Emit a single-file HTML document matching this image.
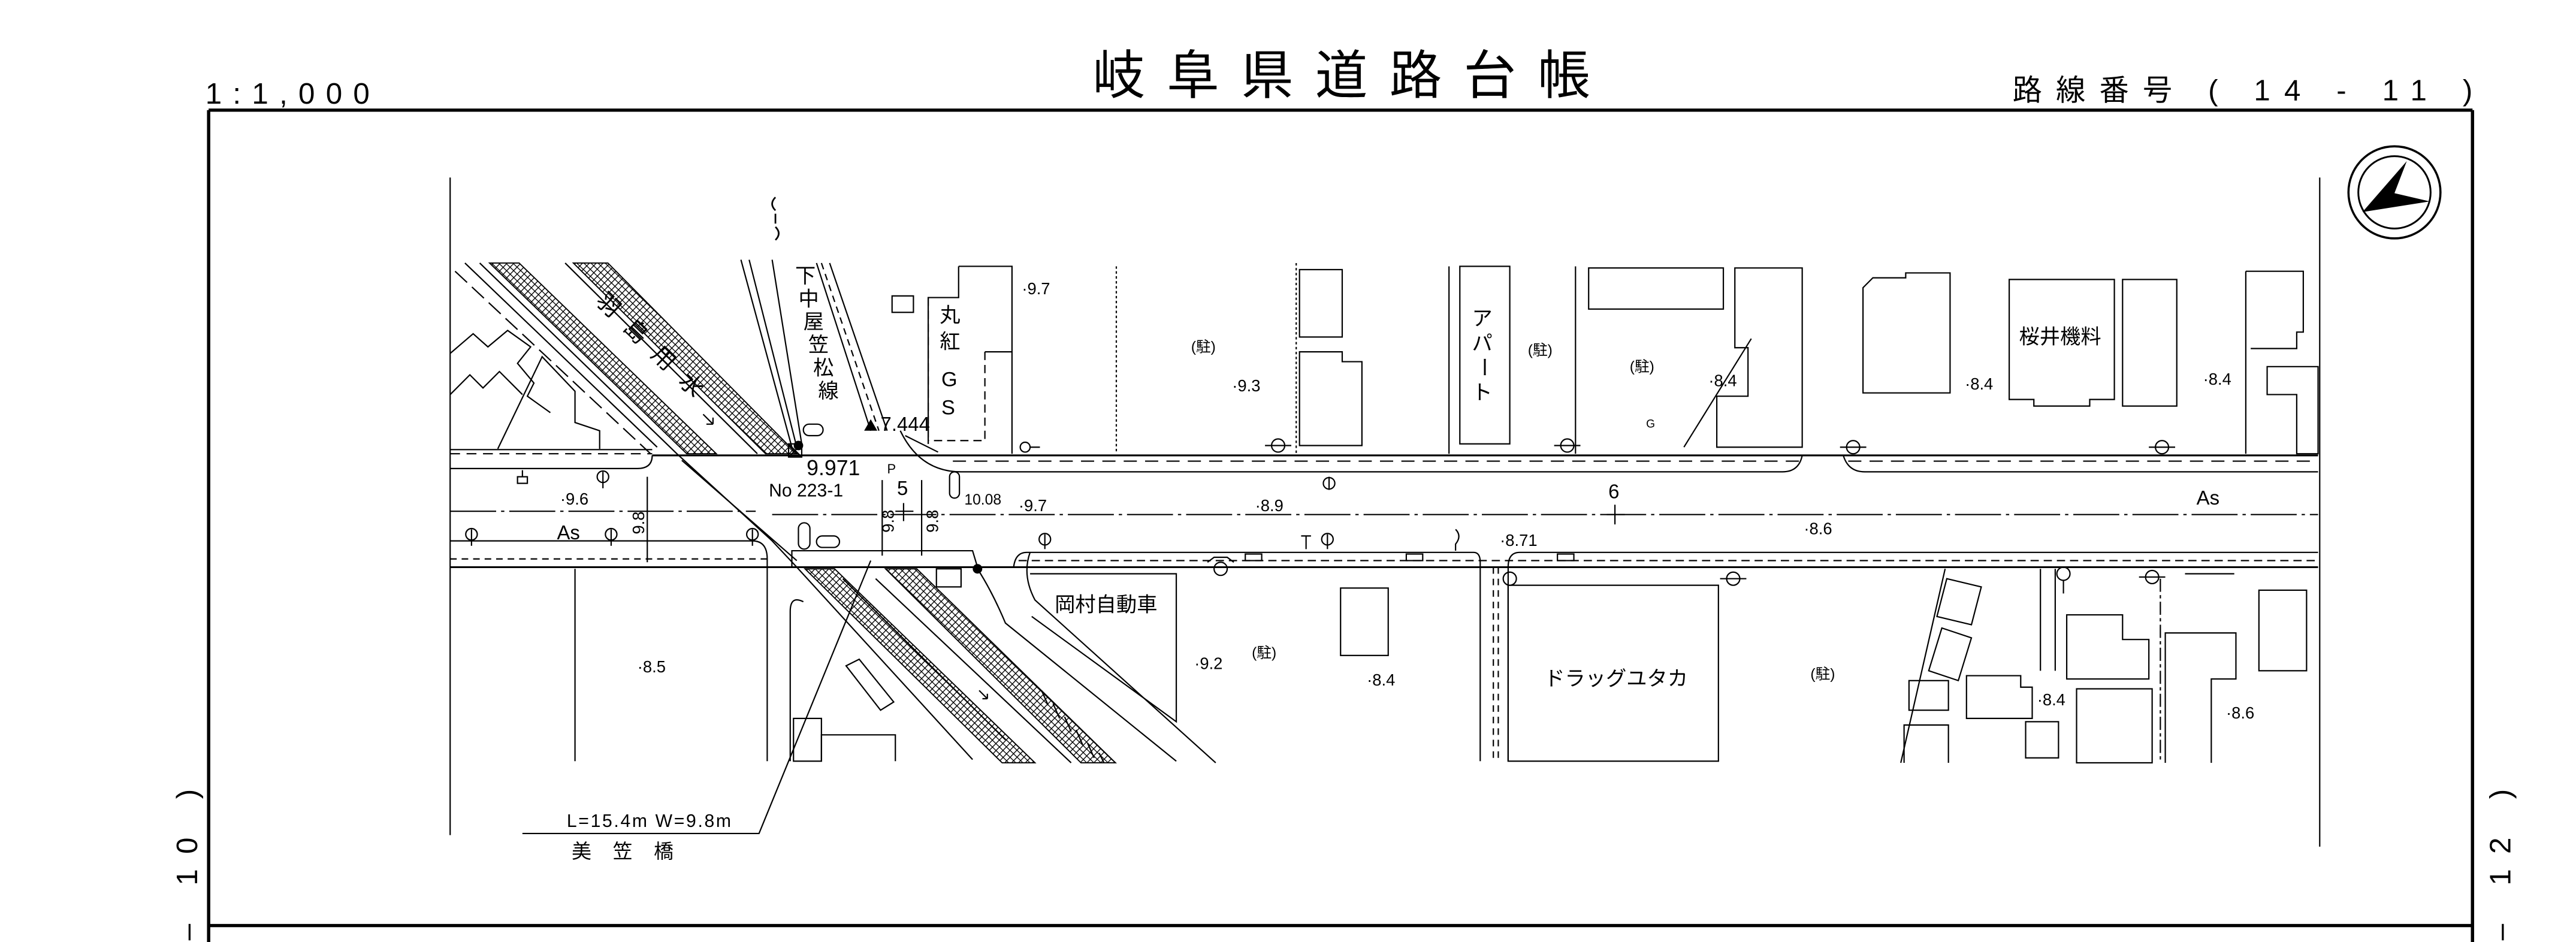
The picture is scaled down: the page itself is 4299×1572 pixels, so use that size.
<!DOCTYPE html>
<html><head><meta charset="utf-8"><style>
html,body{margin:0;padding:0;background:#fff}
svg{display:block}
text{font-family:"Liberation Sans","Noto Sans CJK JP",sans-serif;fill:#000}
</style></head><body>
<svg xmlns="http://www.w3.org/2000/svg" width="4299" height="1572" viewBox="0 0 1568 573" preserveAspectRatio="none">
<defs>
<pattern id="h" patternUnits="userSpaceOnUse" width="3" height="3" patternTransform="rotate(44)">
<rect width="3" height="3" fill="#fff"/>
<path d="M0 0H3M0 0V3" stroke="#000" stroke-width="1"/>
</pattern>
</defs>
<g fill="none" stroke="#000" stroke-width="0.8">
<path d="M127 67H1505M127 67V573M1505 67V573M127 563H1505" stroke-width="2"/>
<path d="M274 108V508M1412 108V515"/>

<circle cx="1457.5" cy="117" r="28" stroke-width="1.3"/>
<circle cx="1457.5" cy="117" r="22" stroke-width="1.1"/>
<polygon points="1465,98 1457.5,117.5 1479,122.5 1438,129" fill="#000" stroke="none"/>

<path d="M274 273.5H397"/>
<path d="M274 276H397" stroke-dasharray="6 4"/>
<path d="M397 277H1411" stroke-width="1.1"/>
<path d="M580 280.5H1095M1125 280.5H1411" stroke-dasharray="8 5"/>
<path d="M274 285H388Q397 285 397 277"/>
<path d="M548 262Q560 287 585 287H1085Q1095 287 1097 277"/>
<path d="M1122 277Q1125 287 1135 287H1411"/>
<path d="M274 311H460M470 313H1411" stroke-dasharray="28 3 2 3"/>
<path d="M274 329H458Q467 329 467 340V463"/>
<path d="M274 340H467" stroke-dasharray="4 3"/>
<path d="M274 345H1411" stroke-width="1.1"/>
<path d="M482 345V335H592L595 345"/>
<rect x="570" y="346" width="15" height="11"/>
<circle cx="595" cy="346" r="2.5" fill="#000"/>
<path d="M617 345Q618 336 625 336H897Q901 336 901 342V463"/>
<path d="M909 345V463M912 345V463" stroke-dasharray="4 3"/>
<path d="M918 463V345Q918 336 925 336H1411"/>
<path d="M620 341H1411" stroke-dasharray="5 3"/>

<polygon points="298,160 316,160 436,276 418,276" fill="url(#h)" stroke-width="0.7"/>
<polygon points="349,160 370,160 485,276 466,276" fill="url(#h)" stroke-width="0.7"/>
<path d="M292 160L412 276M344 160L461 276"/>
<path d="M277 165L396 276" stroke-dasharray="10 4"/>
<path d="M283 160L400 272"/>
<path d="M428 252l6 6m0 0v-4m0 4h-4"/>
<polygon points="490,346 508,346 630,464 610,464" fill="url(#h)" stroke-width="0.7"/>
<polygon points="539,346 558,346 679,464 658,464" fill="url(#h)" stroke-width="0.7"/>
<path d="M533 352L652 464M513 352L612 450"/>
<path d="M596 420l5 5m0 0v-3m0 3h-3"/>
<path d="M412 276L470 329L485 345L592 462"/>
<path d="M481 463V372Q481 362 489 366"/>
<path d="M415 280L485 341"/>
<path d="M634 420l4 9M641 428l4 9M648 436l4 9M655 444l4 9M662 452l4 9M669 458l3 6"/>
<path d="M595 346Q604 360 612 379L716 463"/>
<path d="M627 336Q622 350 630 365L740 464"/>
<path d="M627 349H716V439L628 375"/>
<path d="M530 341L462 507H318"/>
<path d="M350 346V463"/>
<rect x="483" y="437" width="17" height="26"/>
<path d="M500 463V447H545V463"/>
<path d="M515 405l8 -4l21 26l-8 5z"/>

<path d="M274 215l14 -12l9 8l12 -10l14 10l-8 10l10 12l-4 8l14 10"/>
<path d="M274 240l12 -12l8 8l10 -10l14 14"/>
<path d="M303 273L330 217L350 238V257L365 262V273"/>

<path d="M451 158L482 272M456 158L485 272M470 158L488 270M497 160L530 262M505 160L540 262"/>
<path d="M500 160L535 262" stroke-dasharray="4 3"/>
<rect x="489" y="258" width="12" height="7" rx="3.5"/>
<rect x="480" y="270" width="8" height="8"/>
<path d="M480 270l8 8M488 270l-8 8"/>
<circle cx="486" cy="271" r="2.5" fill="#000"/>
<path d="M551 265l20 10"/>
<path d="M472 120q-4 4 0 8M472 130v6M472 138q4 4 0 8" stroke-width="1"/>

<path d="M583.5 162H616V214H599.5V214"/>
<path d="M583.5 162V181H565V270"/>
<rect x="543" y="180" width="13" height="10"/>
<path d="M599.5 214V268H565" stroke-dasharray="5 3"/>
<path d="M565 181V270" stroke-dasharray="5 3"/>
<path d="M616 214V276"/>
<path d="M679.5 162V276M789 160V276" stroke-dasharray="1.5 1.5"/>
<rect x="791" y="164" width="26" height="41"/>
<path d="M791 214H817V220H829V271H791Z"/>
<path d="M882 162V276M959 162V276"/>
<rect x="888.6" y="162" width="30.4" height="108"/>
<rect x="967" y="163" width="82" height="25"/>
<path d="M1056 163H1097V272H1045V241H1064V211.5H1056Z"/>
<path d="M1066 206L1025 272"/>
<path d="M1134 175L1140 169H1160V166H1187V239H1134Z"/>
<path d="M1223 170H1287V243H1272V247H1238V243H1223Z"/>
<rect x="1292" y="170" width="33" height="77"/>
<path d="M1367 165H1402V202H1398V212H1370M1367 165V276"/>
<path d="M1380 223H1411V276H1398V240H1380Z"/>

<rect x="816" y="357.7" width="29" height="41"/>
<rect x="918" y="356" width="128" height="107" />
<path d="M1184 346L1157 464"/>
<path d="M1185 352l21 5l-6 23l-21 -5z"/>
<path d="M1182 382l18 6l-8 26l-18 -6z"/>
<rect x="1162" y="414" width="24" height="18"/>
<path d="M1159 464V441H1186V464"/>
<path d="M1197 411H1230V418H1237V437H1197Z"/>
<rect x="1233" y="439" width="20" height="22"/>
<path d="M1258 374H1292V389H1308V413H1258Z"/>
<rect x="1264" y="419" width="46" height="45"/>
<path d="M1318 464V385H1361V413H1346V464"/>
<rect x="1375" y="359" width="29" height="49"/>
<path d="M1242 346V408M1251 346V408"/>
<path d="M1315 352V464" stroke-dasharray="8 2 2 2"/>
<path d="M1330 349H1360"/>

<g stroke-width="0.8">
<circle cx="367" cy="290" r="3.5"/><path d="M367 287v10"/>
<rect x="315" y="290" width="6" height="4"/><path d="M318 286v4"/>
<circle cx="287" cy="325" r="3.5"/><path d="M287 322v10"/>
<circle cx="372" cy="325" r="3.5"/><path d="M372 322v10"/>
<circle cx="458" cy="325" r="3.5"/><path d="M458 322v10"/>
<circle cx="809" cy="294" r="3.5"/><path d="M809 290v8"/>
<circle cx="636" cy="328" r="3.5"/><path d="M636 325v9"/>
<circle cx="808" cy="328" r="3.5"/><path d="M808 325v9"/>
<path d="M792 326h6M795 326v8"/>
<path d="M886 322q4 4 0 9v4"/>
<circle cx="624" cy="272" r="3"/><path d="M627 272h6"/>
<circle cx="778" cy="271" r="4"/><path d="M770 271h16"/>
<circle cx="954" cy="271" r="4"/><path d="M946 271h16"/>
<circle cx="1128" cy="272" r="4"/><path d="M1120 272h16"/>
<circle cx="1316" cy="272" r="4"/><path d="M1308 272h16"/>
<circle cx="743" cy="346" r="4"/><path d="M735 342l4 -3h8l4 3"/>
<circle cx="919" cy="352" r="4"/>
<circle cx="1055" cy="352" r="4"/><path d="M1047 352h16"/>
<circle cx="1256" cy="349" r="4"/><path d="M1256 353v8"/>
<circle cx="1310" cy="351" r="4"/><path d="M1302 351h16"/>
<rect x="758" y="337" width="10" height="4"/>
<rect x="856" y="337" width="10" height="4"/>
<rect x="948" y="337" width="10" height="4"/>
<rect x="486" y="318" width="7" height="16" rx="3.5"/>
<rect x="497" y="326" width="14" height="7" rx="3.5"/>
<rect x="578" y="287" width="6" height="16" rx="3"/>
</g>
<path d="M394 290V342M537 292V338M561 292V338"/>
<path d="M545 311h11M550 306v11M978 313h11M983 307v12"/>
</g>

<text x="665" y="57" font-size="32" textLength="303" lengthAdjust="spacing">岐阜県道路台帳</text>
<text x="125" y="63" font-size="18" textLength="100" lengthAdjust="spacing">1:1,000</text>
<text x="1225" y="61" font-size="18" textLength="280" lengthAdjust="spacing">路線番号 ( 14 - 11 )</text>
<text transform="translate(120 572) rotate(-90)" font-size="18" textLength="92" lengthAdjust="spacing">– 10 )</text>
<text transform="translate(1528 572) rotate(-90)" font-size="18" textLength="92" lengthAdjust="spacing">– 12 )</text>

<g font-size="12">
<text transform="translate(362 184) rotate(44)" font-size="14" textLength="84" lengthAdjust="spacing">羽島用水</text>
<g font-size="12.5">
<text x="484" y="172">下</text><text x="486" y="186">中</text><text x="489" y="200">屋</text><text x="492" y="214">笠</text><text x="495" y="228">松</text><text x="498" y="242">線</text>
<text x="572" y="196">丸</text><text x="572" y="212">紅</text>
<text x="573" y="235">G</text><text x="573" y="252">S</text>
<text x="896" y="198">ア</text><text x="896" y="213">パ</text><text x="896" y="228" transform="rotate(90 903 224)">ー</text><text x="896" y="243">ト</text>
<text x="1229" y="209">桜井機料</text>
<text x="642" y="372">岡村自動車</text>
<text x="940" y="417">ドラッグユタカ</text>
</g>
<g font-size="9">
<text x="725" y="214">(駐)</text><text x="930" y="216">(駐)</text><text x="992" y="226">(駐)</text>
<text x="762" y="400">(駐)</text><text x="1102" y="413">(駐)</text>
<text x="1002" y="260" font-size="7">G</text>
</g>
<g font-size="10">
<text x="622" y="179">·9.7</text><text x="750" y="238">·9.3</text><text x="1040" y="235">·8.4</text>
<text x="1196" y="237">·8.4</text><text x="1341" y="234">·8.4</text>
<text x="388" y="409">·8.5</text><text x="727" y="407">·9.2</text><text x="832" y="417">·8.4</text>
<text x="1240" y="429">·8.4</text><text x="1355" y="437">·8.6</text>
<text x="341" y="307">·9.6</text><text x="620" y="311">·9.7</text>
<text x="764" y="311">·8.9</text><text x="1098" y="325">·8.6</text><text x="913" y="332">·8.71</text>
</g>
<text x="587" y="307" font-size="9">10.08</text>
<text x="339" y="328" font-size="12">As</text>
<text x="1337" y="307" font-size="12">As</text>
<text x="979" y="303" font-size="12">6</text>
<text x="546" y="301" font-size="12">5</text>
<text x="540" y="288" font-size="8">P</text>
<text x="491" y="289" font-size="13">9.971</text>
<text x="468" y="302" font-size="11">No 223-1</text>
<text x="536" y="262" font-size="12">7.444</text>
<text transform="translate(392 325) rotate(-90)" font-size="10">9.8</text>
<text transform="translate(544 324) rotate(-90)" font-size="10">9.8</text>
<text transform="translate(571 324) rotate(-90)" font-size="10">9.8</text>
<text x="345" y="503" font-size="11" textLength="100" lengthAdjust="spacing">L=15.4m  W=9.8m</text>
<text x="348" y="522" font-size="12" textLength="62" lengthAdjust="spacing">美 笠 橋</text>
</g>
<polygon points="526,262 534,262 530,255" fill="#000"/>
</svg>
</body></html>
